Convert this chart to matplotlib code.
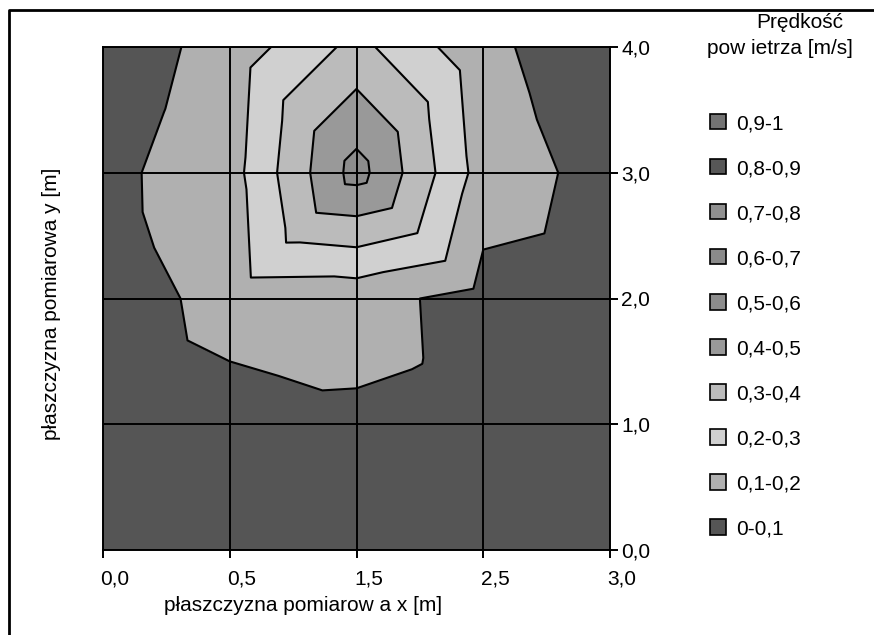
import numpy as np
import matplotlib
matplotlib.use("Agg")
import matplotlib.pyplot as plt
import matplotlib.tri as mtri
from matplotlib.patches import Patch
from matplotlib.lines import Line2D
import matplotlib.transforms as mtransforms

plt.rcParams['font.family'] = ['Liberation Sans', 'DejaVu Sans']

# measurement grid (Excel category axes, evenly spaced)
x_labels = ["0,0", "0,5", "1,5", "2,5", "3,0"]
y_labels = ["0,0", "1,0", "2,0", "3,0", "4,0"]

# air speed [m/s] at grid nodes, rows from y=0,0 up to y=4,0
row_y0 = [0.020, 0.030, 0.035, 0.030, 0.020]
row_y1 = [0.030, 0.060, 0.086, 0.050, 0.030]
row_y2 = [0.037, 0.140, 0.135, 0.065, 0.040]
row_y3 = [0.075, 0.157, 0.540, 0.155, 0.062]
row_y4 = [0.040, 0.137, 0.330, 0.127, 0.019]

# values read in the middle of each grid cell (Excel splits cells into 4 triangles)
mid_y0 = [0.035, 0.050, 0.055, 0.040]
mid_y1 = [0.080, 0.112, 0.102, 0.060]
mid_y2 = [0.115, 0.320, 0.290, 0.098]
mid_y3 = [0.101, 0.330, 0.325, 0.090]

levels = [0.0, 0.1, 0.2, 0.3, 0.4, 0.5, 0.6, 0.7, 0.8, 0.9, 1.0]
range_labels = ["0-0,1", "0,1-0,2", "0,2-0,3", "0,3-0,4", "0,4-0,5",
                "0,5-0,6", "0,6-0,7", "0,7-0,8", "0,8-0,9", "0,9-1"]
fill_colors = ['#555555', '#b0b0b0', '#d0d0d0', '#bbbbbb', '#999999',
               '#8c8c8c', '#8a8a8a', '#909090', '#575757', '#737373']

nodes = np.array([row_y0, row_y1, row_y2, row_y3, row_y4])
mids = np.array([mid_y0, mid_y1, mid_y2, mid_y3])
ny, nx = nodes.shape

# triangulation: every cell split into 4 triangles around its middle point
gx, gy = np.meshgrid(np.arange(nx), np.arange(ny))
mx, my = np.meshgrid(np.arange(nx - 1) + 0.5, np.arange(ny - 1) + 0.5)
px = np.concatenate([gx.ravel(), mx.ravel()])
py = np.concatenate([gy.ravel(), my.ravel()])
pz = np.concatenate([nodes.ravel(), mids.ravel()])
tris = []
for j in range(ny - 1):
    for i in range(nx - 1):
        bl, br = j * nx + i, j * nx + i + 1
        tl, tr = (j + 1) * nx + i, (j + 1) * nx + i + 1
        c = nx * ny + j * (nx - 1) + i
        tris += [[bl, br, c], [br, tr, c], [tr, tl, c], [tl, bl, c]]
tri = mtri.Triangulation(px, py, tris)

fig = plt.figure(figsize=(8.74, 6.35), dpi=100)
ax = fig.add_axes([103 / 874, 1 - 550 / 635, 507 / 874, 503 / 635])

ax.tricontourf(tri, pz, levels=levels, colors=fill_colors)
ax.tricontour(tri, pz, levels=levels[1:-1], colors='black', linewidths=1.5)

# grid lines on top of the fill
for v in range(nx):
    ax.axvline(v, color='black', lw=1.4, zorder=3)
for v in range(ny):
    ax.axhline(v, color='black', lw=1.4, zorder=3)

ax.set_xlim(0, nx - 1)
ax.set_ylim(0, ny - 1)
for s in ax.spines.values():
    s.set_linewidth(1.4)
    s.set_zorder(4)

ax.set_xticks(range(nx))
ax.set_xticklabels(x_labels, fontsize=15)
ax.set_yticks(range(ny))
ax.set_yticklabels(y_labels, fontsize=15)
ax.yaxis.tick_right()
ax.tick_params(axis='x', direction='out', length=6, width=1.4, pad=8)
ax.tick_params(axis='y', direction='out', length=6, width=1.4, pad=2)

# Excel puts the x labels a bit right of the tick
shift = mtransforms.ScaledTranslation(12 / 100, 0, fig.dpi_scale_trans)
for lab in ax.get_xticklabels():
    lab.set_transform(lab.get_transform() + shift)

ax.set_xlabel("płaszczyzna pomiarow a x [m]", fontsize=15)
ax.xaxis.set_label_coords(0.394, -0.092)
ax.set_ylabel("płaszczyzna pomiarowa y [m]", fontsize=15)
ax.yaxis.set_label_position('left')
ax.yaxis.set_label_coords(-0.082, 0.49)

# legend
handles = [Patch(facecolor=c, edgecolor='black', linewidth=1.2) for c in fill_colors[::-1]]
fig.legend(handles, range_labels[::-1], loc='upper left',
           bbox_to_anchor=(710 / 874, 1 - 114 / 635), frameon=False,
           fontsize=15, handlelength=0.75, handleheight=0.75,
           handletextpad=0.5, labelspacing=1.25, borderpad=0, borderaxespad=0)
fig.text(800 / 874, 1 - 22 / 635, "Prędkość", fontsize=15, ha='center', va='center')
fig.text(780 / 874, 1 - 48 / 635, "pow ietrza [m/s]", fontsize=15, ha='center', va='center')

# outer chart frame (only top and left visible in the crop)
fig.add_artist(Line2D([9 / 874, 9 / 874, 1], [0, 1 - 10 / 635, 1 - 10 / 635],
                      transform=fig.transFigure, color='black', lw=2))

fig.savefig("out.png", dpi=100)
